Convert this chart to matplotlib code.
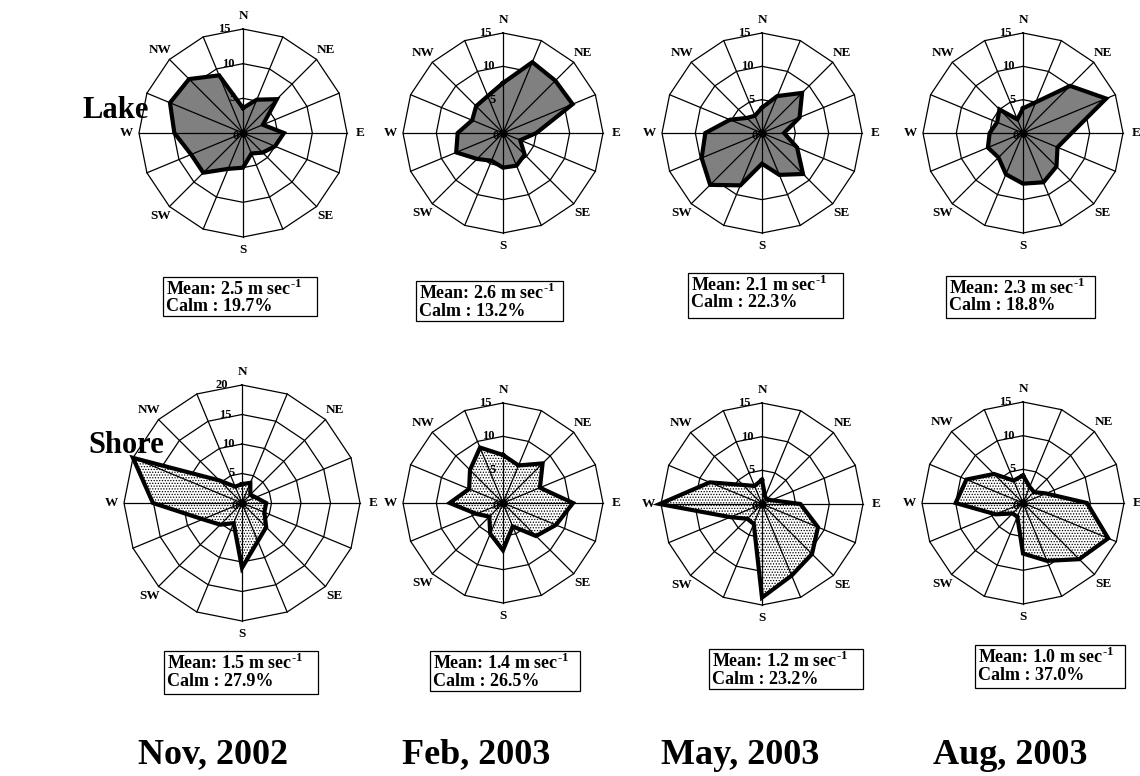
import numpy as np
import matplotlib
matplotlib.use("Agg")
import matplotlib.pyplot as plt
from matplotlib.patches import Rectangle

plt.rcParams["font.family"] = ["Liberation Serif", "DejaVu Serif"]
plt.rcParams["font.weight"] = "bold"
plt.rcParams["mathtext.fontset"] = "custom"
plt.rcParams["mathtext.rm"] = "Liberation Serif:bold"
plt.rcParams["mathtext.bf"] = "Liberation Serif:bold"
plt.rcParams["hatch.linewidth"] = 0.6

# 16 directions, clockwise from N
directions = ["N", "NNE", "NE", "ENE", "E", "ESE", "SE", "SSE",
              "S", "SSW", "SW", "WSW", "W", "WNW", "NW", "NNW"]
compass = ["N", "NE", "E", "SE", "S", "SW", "W", "NW"]
months = ["Nov, 2002", "Feb, 2003", "May, 2003", "Aug, 2003"]

# frequency (%) per direction
lake_nov = [3.6, 5.2, 6.9, 3.1, 5.9, 5.0, 4.0, 3.2, 5.0, 5.6, 8.1, 8.1, 9.9, 11.4, 11.0, 9.0]
lake_feb = [7.5, 11.5, 11.1, 11.3, 5.0, 2.8, 4.6, 5.3, 5.2, 4.5, 5.5, 7.6, 6.8, 5.0, 5.7, 6.0]
lake_may = [3.8, 6.0, 8.5, 6.1, 3.3, 5.7, 8.7, 6.8, 4.6, 8.5, 11.0, 9.8, 8.5, 5.2, 3.2, 2.8]
lake_aug = [3.7, 5.0, 10.0, 13.5, 7.3, 5.6, 7.1, 8.0, 7.6, 6.7, 5.2, 5.7, 5.0, 4.2, 5.0, 2.2]

shore_nov = [3.2, 3.7, 2.0, 2.5, 4.1, 4.1, 5.8, 7.0, 11.0, 3.7, 5.2, 7.2, 15.1, 20.0, 5.4, 3.0]
shore_feb = [7.2, 6.1, 8.4, 6.0, 10.5, 8.6, 7.0, 3.8, 7.1, 5.0, 2.9, 4.3, 8.0, 5.5, 7.0, 9.0]
shore_may = [3.6, 1.2, 1.0, 1.5, 5.7, 9.0, 10.5, 11.5, 13.9, 3.2, 3.1, 5.1, 15.2, 8.4, 4.0, 2.9]
shore_aug = [4.1, 2.6, 2.3, 3.7, 9.5, 13.7, 11.8, 9.3, 7.5, 2.2, 2.2, 4.4, 10.0, 9.1, 6.1, 3.6]

lake_mean = [2.5, 2.6, 2.1, 2.3]
lake_calm = [19.7, 13.2, 22.3, 18.8]
shore_mean = [1.5, 1.4, 1.2, 1.0]
shore_calm = [27.9, 26.5, 23.2, 37.0]

W, H = 1140, 776
fig = plt.figure(figsize=(W / 100, H / 100), dpi=100)

theta = np.deg2rad(np.arange(16) * 22.5)


def fx(x):
    return x / W


def fy(y):
    return 1 - y / H


def closed(a):
    return np.append(a, a[0])


def rose(cx, cy, R, rmax, values, lake):
    pad = 1.45
    half = R * pad
    ax = fig.add_axes([fx(cx - half), fy(cy + half), 2 * half / W, 2 * half / H])
    lim = rmax * pad
    ax.set_xlim(-lim, lim)
    ax.set_ylim(-lim, lim)
    ax.axis("off")
    sx, sy = np.sin(theta), np.cos(theta)
    # rings
    for r in np.arange(5, rmax + 1, 5):
        ax.plot(closed(r * sx), closed(r * sy), color="black", lw=0.9, zorder=1)
    v = np.array(values)
    if lake:
        ax.fill(v * sx, v * sy, facecolor="#808080", edgecolor="none", zorder=2)
    else:
        ax.fill(v * sx, v * sy, facecolor="white", edgecolor="black", lw=0,
                hatch="......", zorder=2)
    # spokes
    for s, c in zip(sx, sy):
        ax.plot([0, rmax * s], [0, rmax * c], color="black", lw=0.9, zorder=3)
    ax.plot(closed(v * sx), closed(v * sy), color="black", lw=3.0,
            solid_joinstyle="miter", zorder=4)
    ax.plot(0, 0, "o", color="black", ms=5, zorder=5)
    # tick labels
    unit = rmax / R
    for r in np.arange(0, rmax + 1, 5):
        ax.text(-(7 + 0.11 * r / unit) * unit, r + (-3 * unit if r == 0 else 0),
                str(int(r)), fontsize=9, ha="center", va="center", zorder=6)
    # compass labels
    for k, name in enumerate(compass):
        a = np.deg2rad(k * 45)
        d = rmax + 13 * unit
        ax.text(d * np.sin(a), d * np.cos(a), name, fontsize=9.5,
                ha="center", va="center")


def info_box(x0, y0, x1, y1, mean, calm):
    fig.add_artist(Rectangle((fx(x0), fy(y1)), (x1 - x0) / W, (y1 - y0) / H,
                             transform=fig.transFigure, facecolor="white",
                             edgecolor="black", lw=0.9))
    fig.text(fx(x0 + 3), fy(y0 + 12), "Mean: %.1f m sec$^{\u2010 1}$" % mean,
             fontsize=13, ha="left", va="center")
    fig.text(fx(x0 + 3), fy(y0 + 30), "Calm : %.1f%%" % calm,
             fontsize=13, ha="left", va="center")


lake_data = [lake_nov, lake_feb, lake_may, lake_aug]
shore_data = [shore_nov, shore_feb, shore_may, shore_aug]
lake_pos = [(243, 133, 104), (503, 133, 100), (762, 133, 100), (1023, 133, 100)]
shore_pos = [(242, 503, 118), (503, 503, 100), (762, 504, 101), (1023, 503, 101)]
lake_boxes = [(163, 277, 317, 316), (416, 281, 563, 321), (688, 273, 843, 318), (946, 276, 1095, 318)]
shore_boxes = [(164, 651, 318, 694), (430, 651, 580, 691), (709, 649, 863, 689), (975, 645, 1125, 688)]

for i in range(4):
    cx, cy, R = lake_pos[i]
    rose(cx, cy, R, 15, lake_data[i], True)
    cx, cy, R = shore_pos[i]
    rose(cx, cy, R, 20 if i == 0 else 15, shore_data[i], False)
    info_box(*lake_boxes[i], lake_mean[i], lake_calm[i])
    info_box(*shore_boxes[i], shore_mean[i], shore_calm[i])

fig.text(fx(116), fy(110), "Lake", fontsize=22, ha="center", va="center")
fig.text(fx(126), fy(446), "Shore", fontsize=22, ha="center", va="center")
for x, m in zip([213, 476, 740, 1010], months):
    fig.text(fx(x), fy(755), m, fontsize=26, ha="center", va="center")

fig.savefig("out.png", dpi=100, facecolor="white")
